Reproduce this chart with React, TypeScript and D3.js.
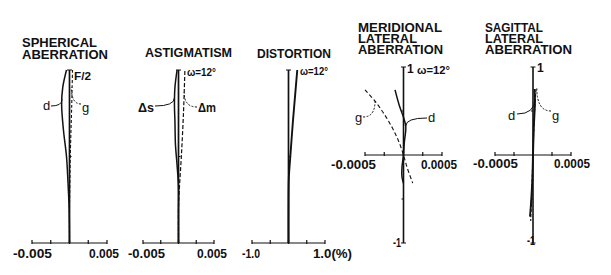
import React from "react";
import * as d3 from "d3";

// ---------- DATA ----------
// Spherical aberration (normalized pupil height vs mm)
const sphH = [0, 0.2, 0.35, 0.5, 0.65, 0.8, 0.9, 1.0];
const sphD = [0, -0.00005, -0.0002, -0.0004, -0.0008, -0.00105, -0.0009, -0.0004];
const sphG = [0, 0, 0.00005, 0.0001, 0.0002, 0.0003, 0.00035, 0.0004];
const sphTicks = [-0.005, -0.0025, 0, 0.0025, 0.005];

// Astigmatism
const astH = [0, 0.2, 0.32, 0.45, 0.57, 0.7, 0.8, 0.9, 1.0];
const astS = [0, 0, 0, -0.0002, -0.00043, -0.0005, -0.00057, -0.0005, -0.0002];
const astMH = [0, 0.2, 0.3, 0.5, 0.75, 1.0];
const astM = [0, 0, 0.0001, 0.0004, 0.0007, 0.0009];
const astTicks = [-0.005, -0.0025, 0, 0.0025, 0.005];

// Distortion (%)
const disH = [0, 0.2, 0.38, 0.5, 0.7, 0.85, 1.0];
const disV = [0, 0, 0.01, 0.05, 0.12, 0.18, 0.24];
const disTicks = [-1, -0.5, 0, 0.5, 1];

// Meridional lateral aberration
const merGP = [0.74, 0.6, 0.45, 0.3, 0.15, 0, -0.15, -0.32];
const merG = [-0.0005, -0.00036, -0.00024, -0.00014, -0.00006, 0, 0.00005, 0.00012];
const merDP = [0.74, 0.55, 0.43, 0.32, 0.14, 0, -0.14, -0.25, -0.32];
const merD = [-0.00011, -0.00005, 0, 0.00003, 0.00001, 0, -0.00002, -0.00002, 0];
const latTicks = [-0.0005, -0.00025, 0, 0.00025, 0.0005];

// Sagittal lateral aberration
const sagDP = [0.75, 0.62, 0.3, 0, -0.3, -0.6, -0.7];
const sagD = [0.00002, 0.000026, 0.00001, 0, -0.00001, -0.00003, -0.00004];
const sagGP = [0.75, 0.5, 0, -0.5, -0.75];
const sagG = [0.00004, 0.00002, 0, -0.00002, -0.00003];

// ---------- LAYOUT ----------
const FONT = "'Liberation Sans', Arial, Helvetica, sans-serif";
const INK = "#111";

const zip = (a: number[], b: number[]) => a.map((v, i) => [v, b[i]] as [number, number]);

type TProps = { x: number; y: number; t: string; w?: number; fs?: number; bold?: boolean; anchor?: string };
const T = ({ x, y, t, w, fs = 12, bold = true, anchor = "start" }: TProps) => (
  <text
    x={x}
    y={y}
    fontSize={fs}
    fontFamily={FONT}
    fontWeight={bold ? 700 : 400}
    fill={INK}
    textAnchor={anchor as any}
    {...(w ? { textLength: w, lengthAdjust: "spacingAndGlyphs" } : {})}
  >
    {t}
  </text>
);

const leader = (sx: number, sy: number, ax: number, ay: number) =>
  `M${sx},${sy} Q${ax},${sy} ${ax},${ay}`;

export default function App() {
  const hY = d3.scaleLinear().domain([0, 1]).range([243, 70]);
  const x1 = d3.scaleLinear().domain([-0.005, 0.005]).range([32, 107]);
  const x2 = d3.scaleLinear().domain([-0.005, 0.005]).range([143, 214]);
  const x3 = d3.scaleLinear().domain([-1, 1]).range([252, 325]);
  const pY = d3.scaleLinear().domain([-1, 1]).range([243, 67]);
  const x4 = d3.scaleLinear().domain([-0.0005, 0.0005]).range([365, 442]);
  const x5 = d3.scaleLinear().domain([-0.0005, 0.0005]).range([495, 571]);

  const mkLine = (xs: d3.ScaleLinear<number, number>, ys: d3.ScaleLinear<number, number>) =>
    d3
      .line<[number, number]>()
      .x((d) => xs(d[1]))
      .y((d) => ys(d[0]))
      .curve(d3.curveCatmullRom.alpha(0.5));

  const sw = 1.5;
  const dash = "3,2";
  const TFS = 12;

  const hAxis = (xs: d3.ScaleLinear<number, number>, y: number, ticks: number[]) => (
    <g stroke={INK} strokeWidth={1.2}>
      <line x1={xs(ticks[0])} x2={xs(ticks[ticks.length - 1])} y1={y} y2={y} />
      {ticks.map((t, i) => (
        <line key={i} x1={xs(t)} x2={xs(t)} y1={y - 3} y2={y + 1} />
      ))}
    </g>
  );

  const vAxisH = (xs: d3.ScaleLinear<number, number>) => (
    <g stroke={INK} strokeWidth={1.7}>
      <line x1={xs(0)} x2={xs(0)} y1={hY(0)} y2={hY(1)} />
      <line x1={xs(0) - 2.5} x2={xs(0) + 2.5} y1={hY(1)} y2={hY(1)} strokeWidth={1} />
      <line x1={xs(0)} x2={xs(0) + 2} y1={hY(0.5)} y2={hY(0.5)} strokeWidth={1} />
    </g>
  );

  const vAxisP = (xs: d3.ScaleLinear<number, number>) => (
    <g stroke={INK} strokeWidth={1.6}>
      <line x1={xs(0)} x2={xs(0)} y1={pY(-1)} y2={pY(1)} />
      <line x1={xs(0) - 2.5} x2={xs(0) + 2.5} y1={pY(1)} y2={pY(1)} strokeWidth={1} />
      <line x1={xs(0) - 2.5} x2={xs(0) + 2.5} y1={pY(-1)} y2={pY(-1)} strokeWidth={1} />
      <line x1={xs(0) - 2} x2={xs(0)} y1={pY(0.5)} y2={pY(0.5)} strokeWidth={1} />
      <line x1={xs(0) - 2} x2={xs(0)} y1={pY(-0.5)} y2={pY(-0.5)} strokeWidth={1} />
    </g>
  );

  return (
    <svg
      width={611}
      height={275}
      style={{ position: "absolute", left: 0, top: 0, background: "#fff" }}
    >
      <rect width={611} height={275} fill="#fff" />

      {/* ---------- Panel 1: Spherical aberration ---------- */}
      <T x={22} y={47} t="SPHERICAL" w={75} fs={TFS} />
      <T x={22} y={59} t="ABERRATION" w={86} fs={TFS} />
      {hAxis(x1, 243, sphTicks)}
      {vAxisH(x1)}
      <path d={mkLine(x1, hY)(zip(sphH, sphD)) || ""} fill="none" stroke={INK} strokeWidth={sw} />
      <path
        d={mkLine(x1, hY)(zip(sphH, sphG)) || ""}
        fill="none"
        stroke={INK}
        strokeWidth={1.1}
        strokeDasharray={dash}
      />
      <T x={74} y={80} t="F/2" w={17} fs={11} />
      <T x={43} y={110} t="d" fs={13} bold={false} />
      <T x={82} y={112} t="g" fs={13} bold={false} />
      <path d={leader(51, 106, x1(-0.001), hY(0.83))} fill="none" stroke={INK} strokeWidth={1} />
      <path
        d={leader(81, 104, x1(0.00025), hY(0.9))}
        fill="none"
        stroke={INK}
        strokeWidth={1}
        strokeDasharray="2,1.5"
      />
      <T x={13} y={258} t="-0.005" w={39} fs={12} />
      <T x={89} y={258} t="0.005" w={30} fs={12} />

      {/* ---------- Panel 2: Astigmatism ---------- */}
      <T x={145} y={57} t="ASTIGMATISM" w={87} fs={TFS} />
      {hAxis(x2, 243, astTicks)}
      {vAxisH(x2)}
      <path d={mkLine(x2, hY)(zip(astH, astS)) || ""} fill="none" stroke={INK} strokeWidth={sw} />
      <path
        d={mkLine(x2, hY)(zip(astMH, astM)) || ""}
        fill="none"
        stroke={INK}
        strokeWidth={1.2}
        strokeDasharray="4,2"
      />
      <T x={187} y={76} t="ω=12°" w={29} fs={11} />
      <T x={138} y={112} t="Δs" w={16} fs={13} />
      <T x={198} y={112} t="Δm" w={18} fs={13} />
      <path d={leader(155, 106, x2(-0.00057), hY(0.84))} fill="none" stroke={INK} strokeWidth={1} />
      <path
        d={leader(197, 107, x2(0.0008), hY(0.87))}
        fill="none"
        stroke={INK}
        strokeWidth={1}
        strokeDasharray="2,1.5"
      />
      <T x={128} y={258} t="-0.005" w={37} fs={12} />
      <T x={197} y={258} t="0.005" w={30} fs={12} />

      {/* ---------- Panel 3: Distortion ---------- */}
      <T x={257} y={58} t="DISTORTION" w={74} fs={TFS} />
      {hAxis(x3, 243, disTicks)}
      {vAxisH(x3)}
      <path d={mkLine(x3, hY)(zip(disH, disV)) || ""} fill="none" stroke={INK} strokeWidth={1.9} />
      <T x={300} y={75} t="ω=12°" w={28} fs={11} />
      <T x={242} y={258} t="-1.0" w={18} fs={12} />
      <T x={313} y={258} t="1.0(%)" w={39} fs={12} />

      {/* ---------- Panel 4: Meridional lateral aberration ---------- */}
      <T x={358} y={32} t="MERIDIONAL" w={84} fs={TFS} />
      <T x={358} y={43} t="LATERAL" w={59} fs={TFS} />
      <T x={358} y={54} t="ABERRATION" w={85} fs={TFS} />
      {hAxis(x4, pY(0), latTicks)}
      {vAxisP(x4)}
      <path
        d={mkLine(x4, pY)(zip(merGP, merG)) || ""}
        fill="none"
        stroke={INK}
        strokeWidth={1.1}
        strokeDasharray="4,2.5"
      />
      <path d={mkLine(x4, pY)(zip(merDP, merD)) || ""} fill="none" stroke={INK} strokeWidth={sw} />
      <T x={407} y={73} t="1" fs={12} />
      <T x={417} y={74} t="ω=12°" w={33} fs={11} />
      <T x={393} y={247} t="-1" w={8} fs={12} />
      <T x={331} y={169} t="-0.0005" w={45} fs={12} />
      <T x={421} y={169} t="0.0005" w={36} fs={12} />
      <T x={355} y={122} t="g" fs={13} bold={false} />
      <T x={428} y={122} t="d" fs={13} bold={false} />
      <path
        d={leader(363, 117, x4(-0.00037), pY(0.61))}
        fill="none"
        stroke={INK}
        strokeWidth={1}
        strokeDasharray="2,1.5"
      />
      <path d={leader(427, 118, x4(0.00003), pY(0.33))} fill="none" stroke={INK} strokeWidth={1} />

      {/* ---------- Panel 5: Sagittal lateral aberration ---------- */}
      <T x={485} y={32} t="SAGITTAL" w={58} fs={TFS} />
      <T x={485} y={43} t="LATERAL" w={58} fs={TFS} />
      <T x={485} y={54} t="ABERRATION" w={87} fs={TFS} />
      {hAxis(x5, pY(0), latTicks)}
      {vAxisP(x5)}
      <path
        d={mkLine(x5, pY)(zip(sagGP, sagG)) || ""}
        fill="none"
        stroke={INK}
        strokeWidth={1.1}
        strokeDasharray="3,2"
      />
      <path d={mkLine(x5, pY)(zip(sagDP, sagD)) || ""} fill="none" stroke={INK} strokeWidth={1.9} />
      <T x={537} y={72} t="1" fs={12} />
      <T x={527} y={245} t="-1" w={8} fs={12} />
      <T x={473} y={168} t="-0.0005" w={45} fs={12} />
      <T x={554} y={168} t="0.0005" w={36} fs={12} />
      <T x={508} y={120} t="d" fs={13} bold={false} />
      <T x={552} y={120} t="g" fs={13} bold={false} />
      <path d={leader(517, 114, x5(0.000026), pY(0.64))} fill="none" stroke={INK} strokeWidth={1} />
      <path
        d={leader(551, 111, x5(0.00005), pY(0.76))}
        fill="none"
        stroke={INK}
        strokeWidth={1}
        strokeDasharray="2,1.5"
      />
    </svg>
  );
}
